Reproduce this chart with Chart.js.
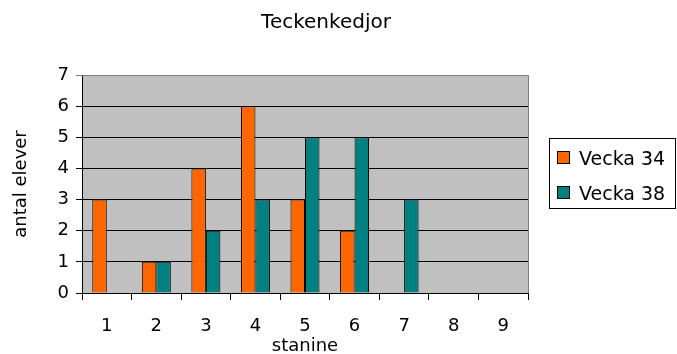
<!DOCTYPE html>
<html>
<head>
<meta charset="utf-8">
<title>Teckenkedjor</title>
<script src="https://cdn.jsdelivr.net/npm/chart.js@4/dist/chart.umd.min.js"></script>
<style>
  html, body { margin: 0; padding: 0; background: #fff; }
  canvas { display: block; }
</style>
</head>
<body>
<canvas id="chart" width="677" height="354"></canvas>
<script>
// Stanine categories and the number of pupils per category for each week
const stanine = ['1', '2', '3', '4', '5', '6', '7', '8', '9'];
const vecka34 = [3, 1, 4, 6, 3, 2, 0, 0, 0];
const vecka38 = [0, 1, 2, 3, 5, 5, 3, 0, 0];
const seriesNames = ['Vecka 34', 'Vecka 38'];
const seriesColors = ['#FF6600', '#008080'];
const yMin = 0, yMax = 7, yStep = 1;

const FONT = "'DejaVu Sans', sans-serif";

// Grey plot background with grey top/right frame
const plotArea = {
  id: 'plotArea',
  beforeDraw(chart) {
    const { ctx, chartArea: a } = chart;
    ctx.save();
    ctx.fillStyle = '#C0C0C0';
    ctx.fillRect(a.left, a.top, a.right - a.left, a.bottom - a.top);
    ctx.restore();
  },
  afterDatasetsDraw(chart) {
    const { ctx, chartArea: a } = chart;
    ctx.save();
    ctx.strokeStyle = '#808080';
    ctx.lineWidth = 1;
    ctx.beginPath();
    ctx.moveTo(a.left + 0.5, a.top + 0.5);
    ctx.lineTo(a.right + 0.5, a.top + 0.5);
    ctx.lineTo(a.right + 0.5, a.bottom);
    ctx.stroke();
    ctx.restore();
  }
};

// Centre the chart title over the plot plus the gap before the legend
const titlePlacement = {
  id: 'titlePlacement',
  afterLayout(chart) {
    if (chart.titleBlock) {
      chart.titleBlock.left = 0;
      chart.titleBlock.right = 652;
    }
  }
};

// Boxed legend on the right-hand side
const boxLegend = {
  id: 'boxLegend',
  afterDraw(chart) {
    const ctx = chart.ctx;
    const box = { x: 549.5, y: 138.5, w: 126, h: 70 };
    ctx.save();
    ctx.fillStyle = '#FFFFFF';
    ctx.fillRect(box.x, box.y, box.w, box.h);
    ctx.strokeStyle = '#000';
    ctx.lineWidth = 1;
    ctx.strokeRect(box.x, box.y, box.w, box.h);
    ctx.font = '19px ' + FONT;
    ctx.textBaseline = 'alphabetic';
    ctx.textAlign = 'left';
    chart.data.datasets.forEach((ds, i) => {
      const rowY = 151.5 + i * 35;
      ctx.fillStyle = ds.backgroundColor;
      ctx.fillRect(557.5, rowY, 12, 12);
      ctx.strokeStyle = '#000';
      ctx.strokeRect(557.5, rowY, 12, 12);
      ctx.fillStyle = '#000';
      ctx.fillText(ds.label, 579, rowY + 13.5);
    });
    ctx.restore();
  }
};

new Chart(document.getElementById('chart'), {
  type: 'bar',
  data: {
    labels: stanine,
    datasets: [
      { label: seriesNames[0], data: vecka34, backgroundColor: seriesColors[0], borderColor: '#000', borderWidth: 1 },
      { label: seriesNames[1], data: vecka38, backgroundColor: seriesColors[1], borderColor: '#000', borderWidth: 1 }
    ]
  },
  options: {
    responsive: false,
    animation: false,
    devicePixelRatio: 1,
    layout: { padding: { top: 0, left: 0, right: 149, bottom: 0 } },
    datasets: {
      bar: { categoryPercentage: 0.585, barPercentage: 1.0 }
    },
    plugins: {
      legend: { display: false },
      tooltip: { enabled: false },
      title: {
        display: true,
        text: 'Teckenkedjor',
        color: '#000',
        font: { family: FONT, size: 20, weight: 'normal', lineHeight: 1.2 },
        padding: { top: 11, bottom: 40 }
      }
    },
    scales: {
      x: {
        afterFit(scale) { scale.height = 61; },
        grid: {
          offset: true,
          drawOnChartArea: false,
          drawTicks: true,
          tickLength: 7,
          color: '#000'
        },
        border: { display: true, color: '#000', width: 1 },
        ticks: {
          color: '#000',
          padding: 16,
          font: { family: FONT, size: 18 }
        },
        title: {
          display: true,
          text: 'stanine',
          color: '#000',
          font: { family: FONT, size: 18, lineHeight: 0.8 },
          padding: { top: 0, bottom: 0 }
        }
      },
      y: {
        min: yMin,
        max: yMax,
        afterFit(scale) { scale.width = 82; },
        grid: {
          color: (c) => (c.tick && c.tick.value === yMax ? '#808080' : '#000'),
          tickLength: 6,
          drawTicks: true
        },
        border: { display: true, color: '#000', width: 1 },
        ticks: {
          stepSize: yStep,
          color: '#000',
          padding: 7,
          font: { family: FONT, size: 18 }
        },
        title: {
          display: true,
          text: 'antal elever',
          color: '#000',
          font: { family: FONT, size: 18, lineHeight: 1 },
          padding: { top: 12, bottom: 0 }
        }
      }
    }
  },
  plugins: [plotArea, titlePlacement, boxLegend]
});
</script>
</body>
</html>
